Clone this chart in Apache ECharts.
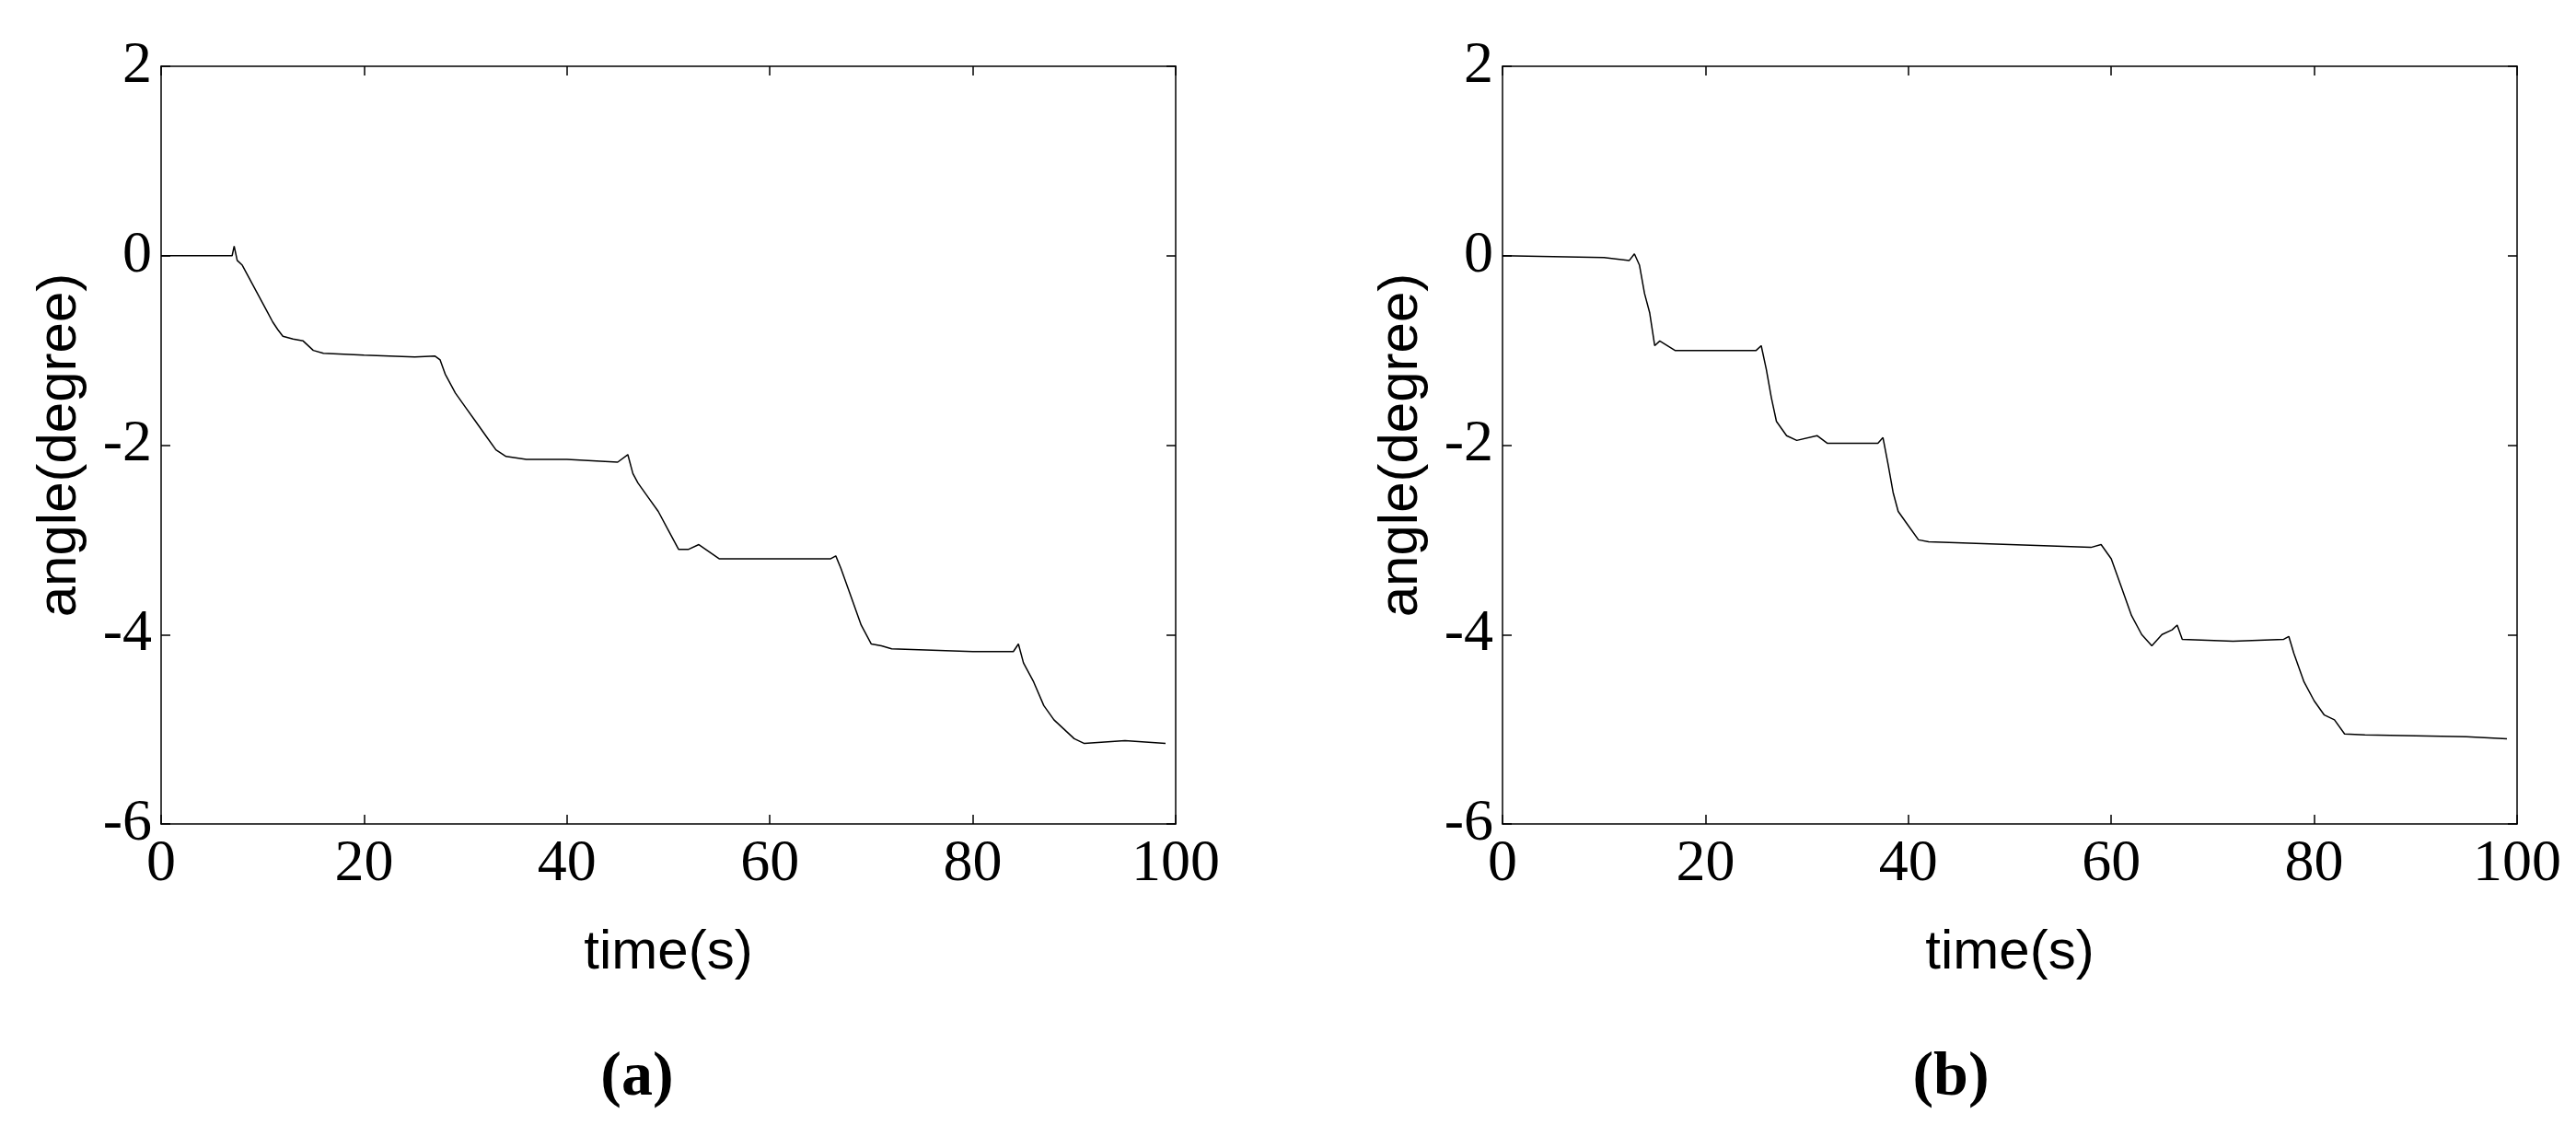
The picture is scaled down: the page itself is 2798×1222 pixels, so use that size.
<!DOCTYPE html>
<html><head><meta charset="utf-8">
<script src="https://cdn.jsdelivr.net/npm/echarts@6/dist/echarts.min.js"></script>
<style>html,body{margin:0;padding:0;background:#fff}#c{width:2798px;height:1222px}</style>
</head><body><div id="c"></div>
<script>
const xTicks = [0, 20, 40, 60, 80, 100];
const yTicks = [-6, -4, -2, 0, 2];
const seriesA = [[0,0],[5,0],[7,0],[7.2,0.1],[7.5,-0.05],[8,-0.1],[8.5,-0.2],[9,-0.3],[9.5,-0.4],[10,-0.5],[10.5,-0.6],[11,-0.7],[11.5,-0.78],[12,-0.85],[13,-0.88],[14,-0.9],[15,-1.0],[16,-1.03],[20,-1.05],[25,-1.07],[27,-1.06],[27.5,-1.1],[28,-1.25],[29,-1.45],[30,-1.6],[31,-1.75],[32,-1.9],[33,-2.05],[34,-2.12],[36,-2.15],[40,-2.15],[45,-2.18],[46,-2.1],[46.5,-2.3],[47,-2.4],[48,-2.55],[49,-2.7],[50,-2.9],[51,-3.1],[52,-3.1],[53,-3.05],[55,-3.2],[60,-3.2],[66,-3.2],[66.5,-3.17],[67,-3.3],[68,-3.6],[69,-3.9],[70,-4.1],[71,-4.12],[72,-4.15],[80,-4.18],[84,-4.18],[84.5,-4.1],[85,-4.3],[86,-4.5],[87,-4.75],[88,-4.9],[89,-5.0],[90,-5.1],[91,-5.15],[95,-5.12],[99,-5.15]];
const seriesB = [[0,0],[5,-0.01],[10,-0.02],[12.5,-0.05],[13,0.02],[13.5,-0.1],[14,-0.4],[14.5,-0.6],[15,-0.95],[15.5,-0.9],[17,-1.0],[25,-1.0],[25.5,-0.95],[26,-1.2],[26.5,-1.5],[27,-1.75],[28,-1.9],[29,-1.95],[31,-1.9],[32,-1.98],[37,-1.98],[37.5,-1.92],[38,-2.2],[38.5,-2.5],[39,-2.7],[40,-2.85],[41,-3.0],[42,-3.02],[50,-3.05],[58,-3.08],[59,-3.05],[60,-3.2],[61,-3.5],[62,-3.8],[63,-4.0],[64,-4.12],[65,-4.0],[66,-3.95],[66.5,-3.9],[67,-4.05],[72,-4.07],[77,-4.05],[77.5,-4.02],[78,-4.2],[79,-4.5],[80,-4.7],[81,-4.85],[82,-4.9],[83,-5.05],[85,-5.06],[95,-5.08],[99,-5.1]];

const tickFont = {fontFamily:'Liberation Serif', fontSize:64, color:'#000'};
const nameFont = {fontFamily:'Liberation Sans', fontSize:60, color:'#000'};
const lineS = {show:true, onZero:false, lineStyle:{color:'#000', width:1.5}};
const tickS = {show:true, inside:true, length:10, lineStyle:{color:'#000', width:1.5}};
const grids = [{left:175, width:1102, top:72, height:823},{left:1632, width:1102, top:72, height:823}];
const xAxis = [], yAxis = [];
grids.forEach((g,i)=>{
  xAxis.push({type:'value', gridIndex:i, min:0, max:100, interval:20, position:'bottom', axisLine:lineS, axisTick:tickS, splitLine:{show:false},
    axisLabel:{...tickFont, margin:12}, name:'time(s)', nameLocation:'middle', nameGap:110, nameTextStyle:nameFont});
  xAxis.push({type:'value', gridIndex:i, min:0, max:100, interval:20, position:'top', axisLine:lineS, axisTick:tickS, splitLine:{show:false}, axisLabel:{show:false}});
  yAxis.push({type:'value', gridIndex:i, min:-6, max:2, interval:2, position:'left', axisLine:lineS, axisTick:tickS, splitLine:{show:false},
    axisLabel:{...tickFont, margin:10}, name:'angle(degree)', nameLocation:'middle', nameGap:80, nameTextStyle:nameFont});
  yAxis.push({type:'value', gridIndex:i, min:-6, max:2, interval:2, position:'right', axisLine:lineS, axisTick:tickS, splitLine:{show:false}, axisLabel:{show:false}});
});
const chart = echarts.init(document.getElementById('c'));
chart.setOption({
  animation:false, backgroundColor:'#fff',
  grid:grids, xAxis, yAxis,
  title:[
    {text:'(a)', left:687, top:1132, textAlign:'center', textStyle:{fontFamily:'Liberation Serif', fontWeight:'bold', fontSize:68, color:'#000'}},
    {text:'(b)', left:2114, top:1132, textAlign:'center', textStyle:{fontFamily:'Liberation Serif', fontWeight:'bold', fontSize:68, color:'#000'}}
  ],
  series:[
    {type:'line', xAxisIndex:0, yAxisIndex:0, data:seriesA, showSymbol:false, lineStyle:{color:'#000', width:1.5}},
    {type:'line', xAxisIndex:2, yAxisIndex:2, data:seriesB, showSymbol:false, lineStyle:{color:'#000', width:1.5}}
  ]
});
</script></body></html>
